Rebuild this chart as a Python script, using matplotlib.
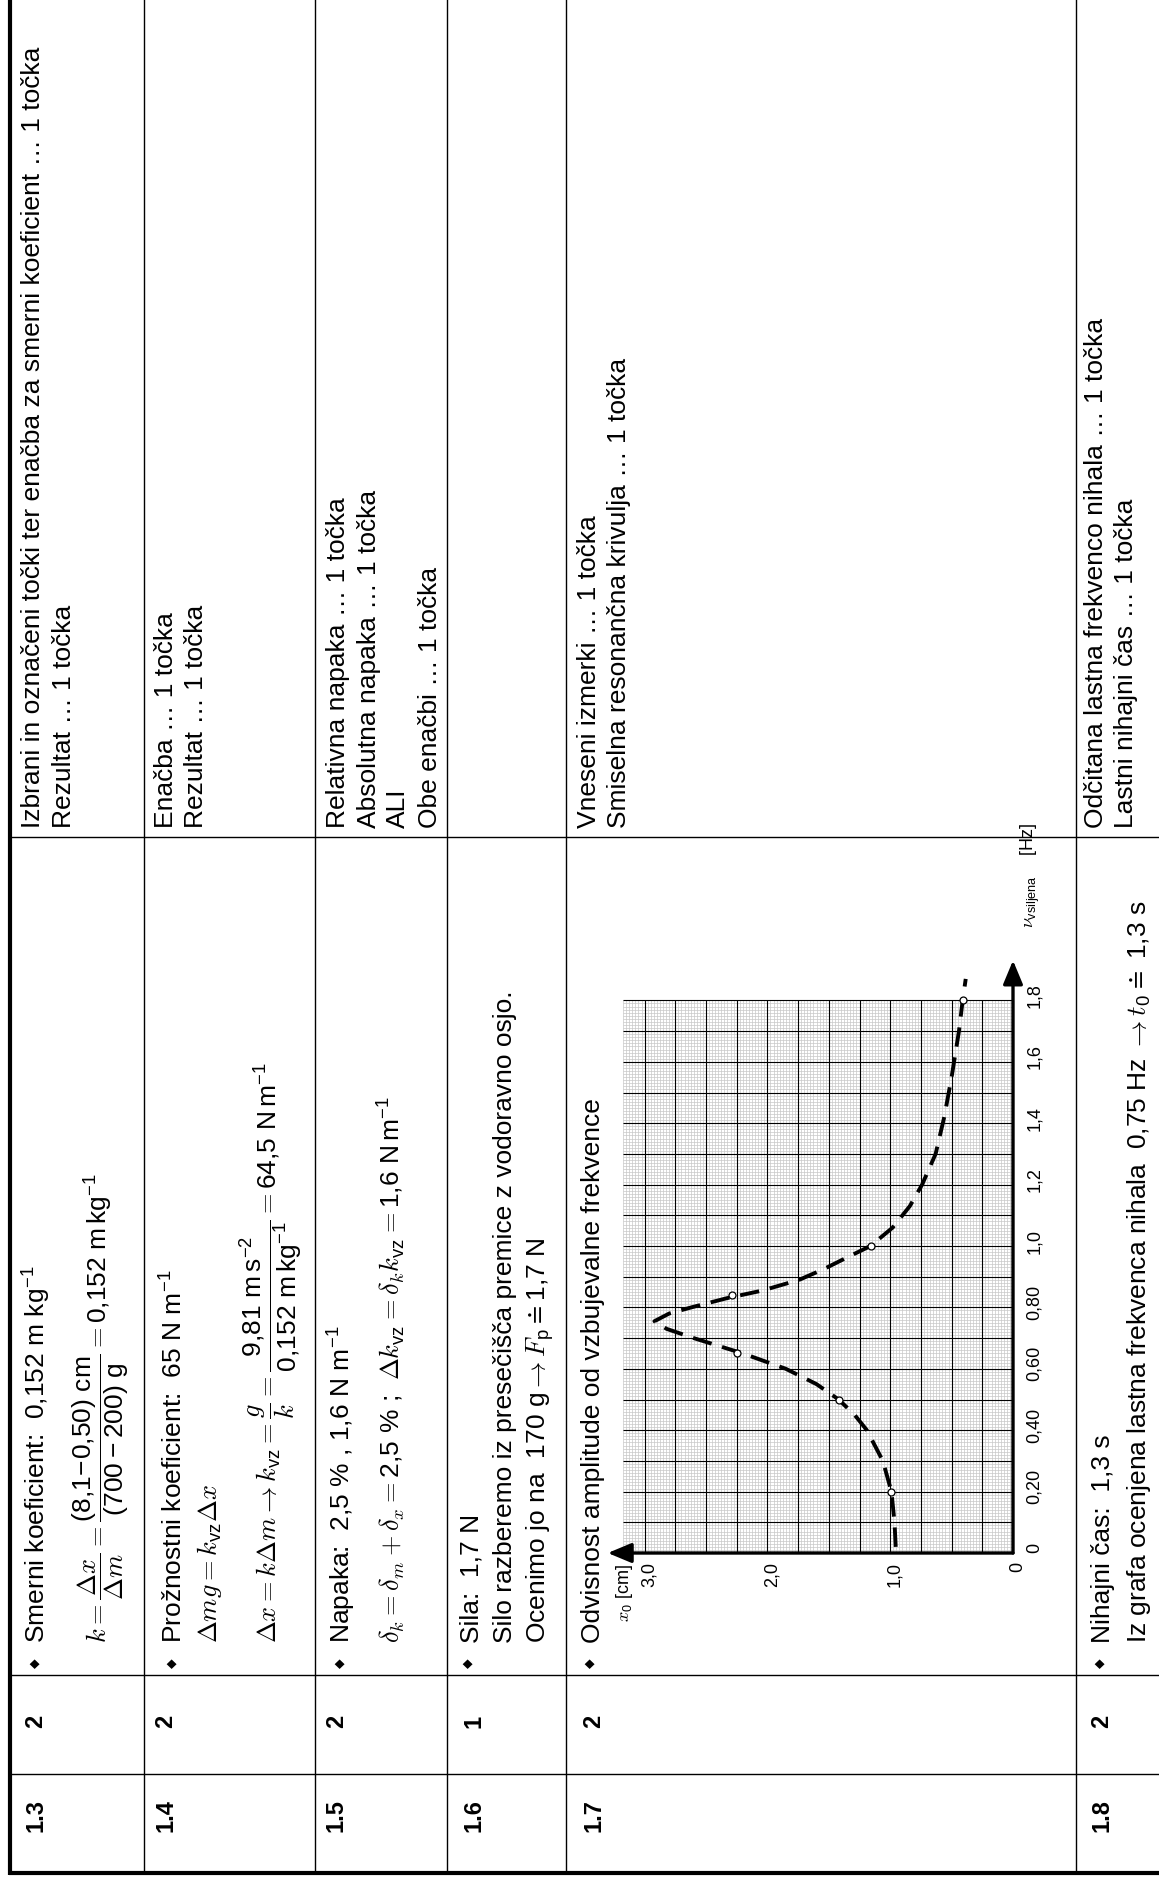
import numpy as np
import matplotlib
matplotlib.use('Agg')
import matplotlib.pyplot as plt
from matplotlib.transforms import offset_copy

plt.rcParams['font.family'] = ['Liberation Sans', 'DejaVu Sans']
# formule: spremenljivke v CM italic, števila in enote v sans
plt.rcParams['mathtext.fontset'] = 'custom'
plt.rcParams['mathtext.rm'] = 'cmr10'
plt.rcParams['mathtext.it'] = 'cmmi10'
plt.rcParams['mathtext.sf'] = 'Liberation Sans'
plt.rcParams['mathtext.bf'] = 'cmb10'
plt.rcParams['mathtext.fallback'] = 'cm'

# meritve: vsiljena frekvenca [Hz] in amplituda x0 [cm]
meas_freq = [0.20, 0.50, 0.65, 0.84, 1.00, 1.80]
meas_amp = [0.99, 1.42, 2.25, 2.29, 1.16, 0.41]

# narisana resonančna krivulja (odčitano s slike)
curve_freq = [0.02, 0.10, 0.20, 0.30, 0.40, 0.45, 0.50, 0.55, 0.60, 0.65, 0.70, 0.73, 0.755,
              0.78, 0.80, 0.83, 0.855, 0.89, 0.925, 0.965, 1.00, 1.06, 1.13, 1.20, 1.30,
              1.42, 1.55, 1.70, 1.80, 1.87]
curve_amp = [0.955, 0.965, 0.99, 1.06, 1.19, 1.29, 1.42, 1.60, 1.85, 2.20, 2.60, 2.82, 2.92,
             2.80, 2.62, 2.33, 2.04, 1.74, 1.54, 1.34, 1.16, 0.98, 0.84, 0.74, 0.63,
             0.56, 0.50, 0.44, 0.41, 0.385]

freq_ticks = [0, 0.2, 0.4, 0.6, 0.8, 1.0, 1.2, 1.4, 1.6, 1.8]
freq_labels = ['0', '0,20', '0,40', '0,60', '0,80', '1,0', '1,2', '1,4', '1,6', '1,8']
amp_ticks = [0, 1, 2, 3]
amp_labels = ['0', '1,0', '2,0', '3,0']

# tabela
task_ids = ['1.3', '1.4', '1.5', '1.6', '1.7', '1.8']
task_points = ['2', '2', '2', '1', '2', '2']
solutions = [
    ["Smerni koeficient:  0,152 m kg$^{\\mathsf{-1}}$",
     r"$k=\dfrac{\Delta x}{\Delta m}=\dfrac{\mathsf{(8{,}1\!-\!0{,}50)\ cm}}{\mathsf{(700-200)\ g}}=\mathsf{0{,}152\ m\,kg^{-1}}$"],
    ["Prožnostni koeficient:  65 N m$^{\\mathsf{-1}}$",
     r"$\Delta mg=k_{\mathsf{vz}}\Delta x$",
     r"$\Delta x=k\Delta m\rightarrow k_{\mathsf{vz}}=\dfrac{g}{k}=\dfrac{\mathsf{9{,}81\ m\,s^{-2}}}{\mathsf{0{,}152\ m\,kg^{-1}}}=\mathsf{64{,}5\ N\,m^{-1}}$"],
    ["Napaka:  2,5 % , 1,6 N m$^{\\mathsf{-1}}$",
     r"$\delta_k=\delta_m+\delta_x=\mathsf{2{,}5\ \%}$ ;  $\Delta k_{\mathsf{vz}}=\delta_k k_{\mathsf{vz}}=\mathsf{1{,}6\ N\,m^{-1}}$"],
    ["Sila:  1,7 N",
     "Silo razberemo iz presečišča premice z vodoravno osjo.",
     "Ocenimo jo na  170 g$\\rightarrow F_{\\mathsf{p}}\\doteq$1,7 N"],
    ["Odvisnost amplitude od vzbujevalne frekvence"],
    ["Nihajni čas:  1,3 s",
     "Iz grafa ocenjena lastna frekvenca nihala  0,75 Hz $\\rightarrow t_{\\mathsf{0}}\\doteq$ 1,3 s"],
]
scoring = [
    ["Izbrani in označeni točki ter enačba za smerni koeficient … 1 točka", "Rezultat … 1 točka"],
    ["Enačba … 1 točka", "Rezultat … 1 točka"],
    ["Relativna napaka … 1 točka", "Absolutna napaka … 1 točka", "ALI", "Obe enačbi … 1 točka"],
    [],
    ["Vneseni izmerki … 1 točka", "Smiselna resonančna krivulja … 1 točka"],
    ["Odčitana lastna frekvenco nihala … 1 točka", "Lastni nihajni čas … 1 točka"],
]

# postavitev (piksli slike)
W, H = 1159, 1882
row_edges = [10, 144, 315, 447, 566, 1076]
num_base = [42, 172, 343, 480, 600, 1108]
sol_base = [[45, 107], [182, 217, 276], [350, 400], [478, 512, 546], [600], [1110, 1146]]
score_base = [[40, 71], [173, 203], [345, 376, 405, 437], [], [596, 626], [1103, 1133]]

fig = plt.figure(figsize=(W / 100, H / 100), dpi=100)
page = fig.add_axes([0, 0, 1, 1])
page.set_xlim(0, W)
page.set_ylim(H, 0)
page.axis('off')

# črte tabele
for x in row_edges[1:]:
    page.plot([x, x], [0, 1873], color='k', lw=1.0)
page.plot([10, 10], [0, 1875], color='k', lw=3.0, solid_capstyle='butt')
for y in [837, 1675, 1774]:
    page.plot([10, W], [y, y], color='k', lw=1.0)
page.plot([8.5, W], [1873, 1873], color='k', lw=3.0, solid_capstyle='butt')


def line(x, y, s, size=19, **kw):
    page.text(x, y, s, rotation=90, rotation_mode='anchor', ha='left', va='baseline',
              fontsize=size, **kw)


for i in range(len(task_ids)):
    line(num_base[i], 1832, task_ids[i], size=17, fontweight='bold')
    line(num_base[i], 1728, task_points[i], size=17, fontweight='bold')
    for j, s in enumerate(solutions[i]):
        line(sol_base[i][j], 1643, s)
    page.text(sol_base[i][0] - 10, 1663, '◆', fontsize=9, family='DejaVu Sans',
              ha='center', va='center', rotation=90)
    for j, s in enumerate(scoring[i]):
        line(score_base[i][j], 828, s)

# graf
A0, AS = 1013, 122.8     # piksel za 0 cm, piksli na cm amplitude
F0, FS = 1553, 307.0     # piksel za 0 Hz, piksli na Hz
a_lo, a_hi = -0.6, 3.5
f_lo, f_hi = -0.35, 2.1
px_l, px_r = A0 - a_hi * AS, A0 - a_lo * AS
py_t, py_b = F0 - f_hi * FS, F0 - f_lo * FS
g = fig.add_axes([px_l / W, 1 - py_b / H, (px_r - px_l) / W, (py_b - py_t) / H])
g.set_xlim(a_hi, a_lo)
g.set_ylim(f_lo, f_hi)
g.axis('off')

amp_edge = 3.175
g.vlines(np.arange(0, amp_edge + 1e-9, 0.025), 0, 1.8, colors='#c8c8c8', lw=0.5)
g.hlines(np.arange(0, 1.8 + 1e-9, 0.01), 0, amp_edge, colors='#c8c8c8', lw=0.5)
g.vlines(np.arange(0, 3.0 + 1e-9, 0.25), 0, 1.8, colors='k', lw=0.8)
g.hlines(np.arange(0, 1.8 + 1e-9, 0.1), 0, amp_edge, colors='k', lw=0.8)

arrow = dict(arrowstyle='-|>,head_length=0.6,head_width=0.25', lw=2.4, color='k',
             shrinkA=0, shrinkB=0, mutation_scale=24)
g.annotate('', xy=(3.30, 0), xytext=(0, 0), arrowprops=arrow)
g.annotate('', xy=(0, 1.93), xytext=(0, 0), arrowprops=arrow)

g.plot(curve_amp, curve_freq, color='k', lw=2.8, dashes=(5.0, 2.8), dash_capstyle='butt', zorder=4)
g.plot(meas_amp, meas_freq, 'o', mfc='white', mec='k', ms=5, mew=0.9, zorder=5)

t_amp = offset_copy(g.transData, fig=fig, x=9, y=-9, units='dots')
for a, s in zip(amp_ticks, amp_labels):
    g.text(a, 0, s, transform=t_amp, rotation=90, rotation_mode='anchor',
           ha='right', va='baseline', fontsize=13)
t_fr = offset_copy(g.transData, fig=fig, x=26, y=5, units='dots')
for f, s in zip(freq_ticks, freq_labels):
    g.text(0, f, s, transform=t_fr, rotation=90, rotation_mode='anchor',
           ha='center', va='baseline', fontsize=13)

page.text(629, 1622, "$x_{\\mathsf{0}}$ [cm]", rotation=90, rotation_mode='anchor',
          ha='left', va='baseline', fontsize=13)
page.text(1034, 928, "$\\nu_{\\mathsf{vsiljena}}$    [Hz]", rotation=90, rotation_mode='anchor',
          ha='left', va='baseline', fontsize=13)

fig.savefig('out.png', dpi=100)
